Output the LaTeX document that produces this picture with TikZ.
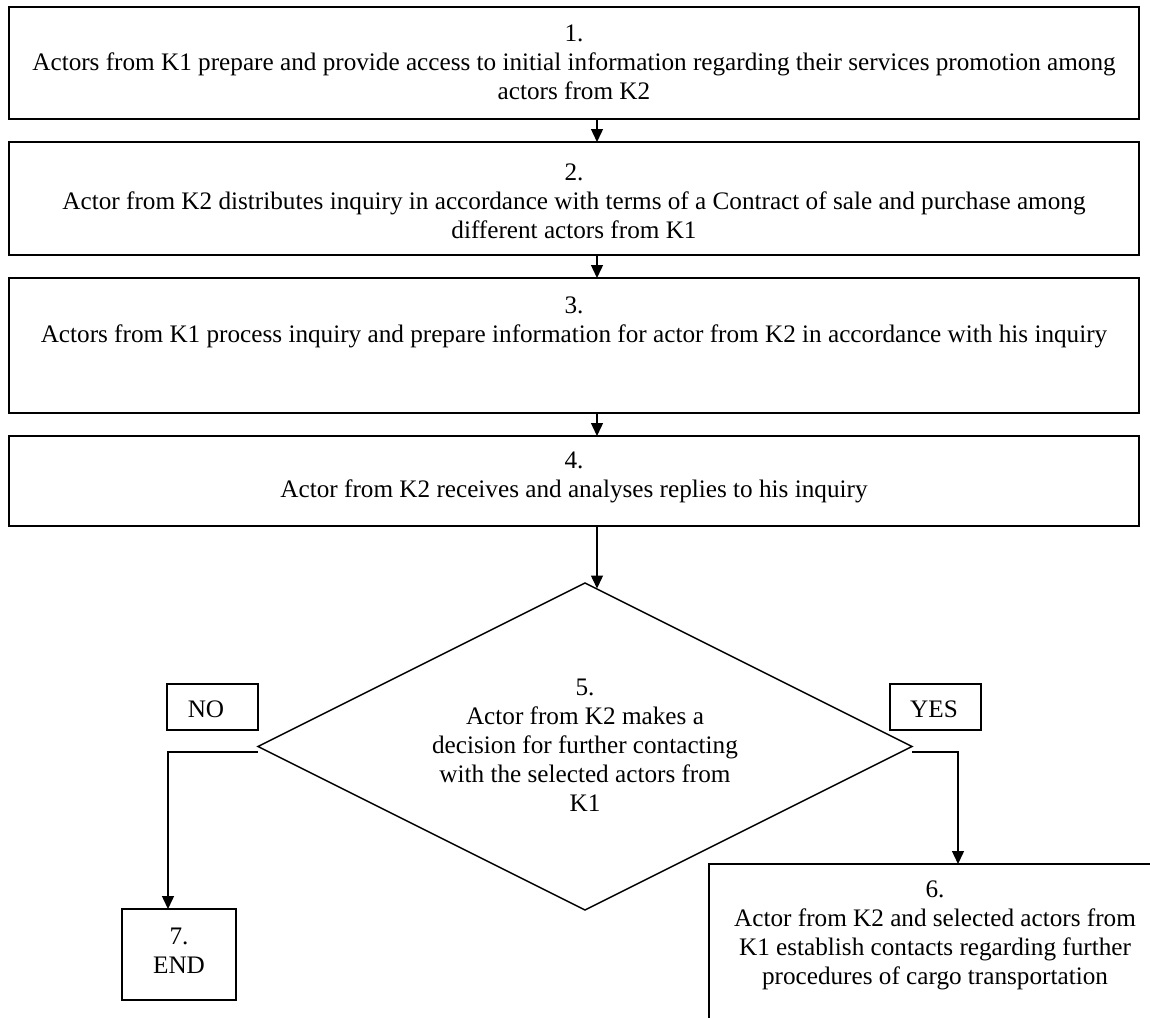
\documentclass[tikz,border=0pt]{standalone}
\usepackage{fontspec}
\setmainfont{Liberation Serif}
\usetikzlibrary{shapes.geometric,arrows.meta}
\begin{document}
\begin{tikzpicture}[x=0.5pt,y=-0.5pt,
  box/.style={draw,line width=0.7pt,inner sep=0pt,outer sep=0pt},
  txt/.style={align=center,inner sep=0pt,font=\fontsize{12.6}{14.5}\selectfont},
  arr/.style={line width=0.7pt,-{Triangle[width=6pt,length=6.5pt]}},
  conn/.style={line width=0.7pt}]
\useasboundingbox[fill=white] (0,0) rectangle (1150,1017);
\clip (0,0) rectangle (1150,1017);
% boxes
\node[box,minimum width=565pt,minimum height=56pt] (b1) at (574,63) {};
\node[box,minimum width=565pt,minimum height=56.5pt] (b2) at (574,198.5) {};
\node[box,minimum width=565pt,minimum height=67.5pt] (b3) at (574,345.5) {};
\node[box,minimum width=565pt,minimum height=45pt] (b4) at (574,481) {};
\node[box,diamond,minimum width=327pt,minimum height=163.5pt] (d5) at (585,746.5) {};
\node[box,minimum width=45.5pt,minimum height=23pt] (no) at (212.5,707) {};
\node[box,minimum width=45.5pt,minimum height=23pt] (yes) at (935.5,707) {};
\node[box,minimum width=57pt,minimum height=45.5pt] (b7) at (179,954.5) {};
\node[box,minimum width=230.5pt,minimum height=88pt] (b6) at (939.5,952) {};
% texts
\node[txt] (t1) at (574,62) {1.\\Actors from K1 prepare and provide access to initial information regarding their services promotion among\\actors from K2};
\node[txt] (t2) at (574,201) {2.\\Actor from K2 distributes inquiry in accordance with terms of a Contract of sale and purchase among\\different actors from K1};
\node[txt] (t3) at (574,322) {3.\\Actors from K1 process inquiry and prepare information for actor from K2 in accordance with his inquiry};
\node[txt] (t4) at (574,477.5) {4.\\Actor from K2 receives and analyses replies to his inquiry};
\node[txt] (t5) at (585,745.5) {5.\\Actor from K2 makes a\\decision for further contacting\\with the selected actors from\\K1};
\node[txt] (tno) at (206,709) {NO};
\node[txt] (tyes) at (934,709) {YES};
\node[txt] (t7) at (179,951) {7.\\END};
\node[txt] (t6) at (935,935) {6.\\Actor from K2 and selected actors from\\K1 establish contacts regarding further\\procedures of cargo transportation};
% connectors
\coordinate (ax) at (597,0);
\draw[arr] (b1.south -| ax) -- (b2.north -| ax);
\draw[arr] (b2.south -| ax) -- (b3.north -| ax);
\draw[arr] (b3.south -| ax) -- (b4.north -| ax);
\coordinate (d5in) at (597,588.5);
\draw[arr] (b4.south -| ax) -- (d5in);
\coordinate (lx) at (168,0);
\coordinate (rx) at (958,0);
\draw[arr] ([yshift=-2.75pt]d5.west) -| (b7.north -| lx);
\draw[arr] ([yshift=-2.75pt]d5.east) -| (b6.north -| rx);
\end{tikzpicture}
\end{document}
